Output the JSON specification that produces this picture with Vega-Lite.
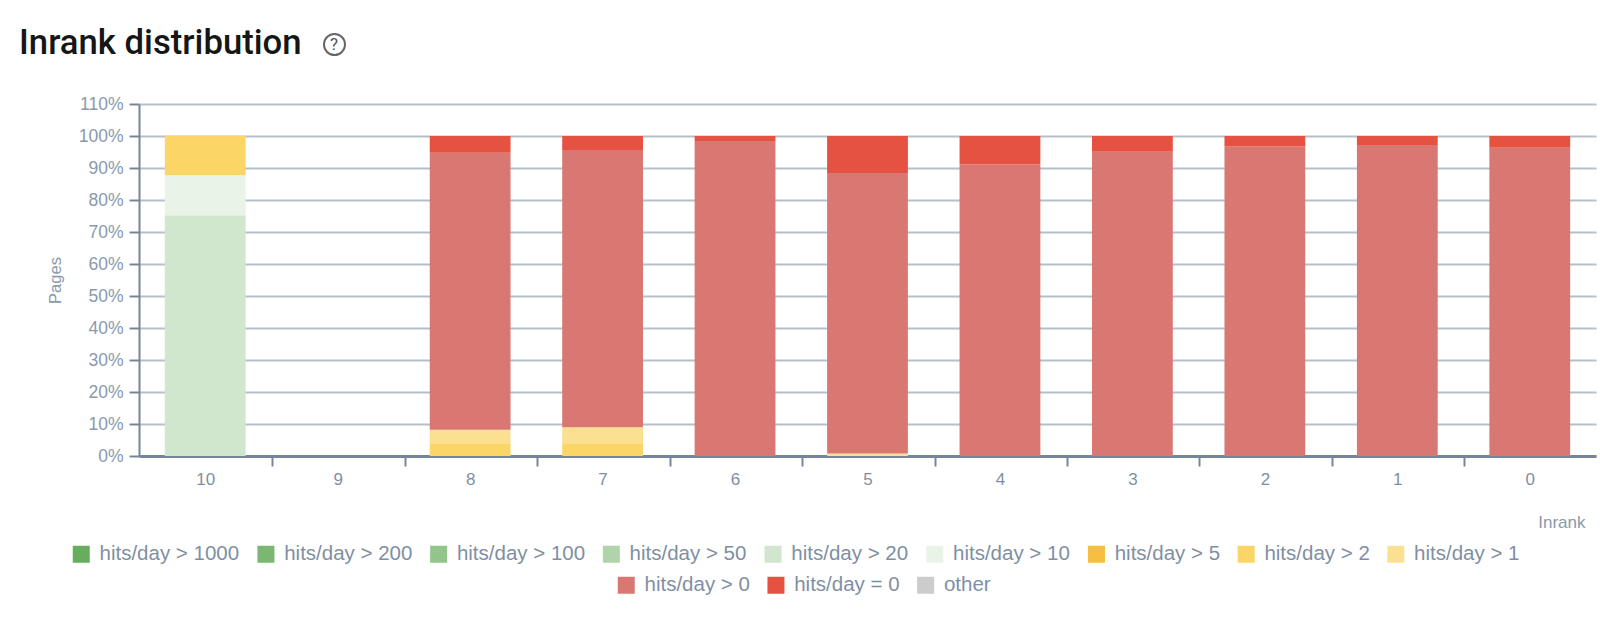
{"$schema":"https://vega.github.io/schema/vega-lite/v6.json","width":1457,"height":352,"autosize":{"type":"none"},"padding":{"left":139,"top":104,"right":4,"bottom":176},"background":"white","title":{"text":"Inrank distribution","font":"Roboto","fontSize":34.7,"fontWeight":500,"color":"#161616","anchor":"start","frame":"group","dx":-120,"offset":0,"dy":29},"data":{"values":[{"inrank":"10","series":"hits/day > 20","order":4,"pct":75.2},{"inrank":"10","series":"hits/day > 10","order":5,"pct":12.5},{"inrank":"10","series":"hits/day > 2","order":7,"pct":12.3},{"inrank":"9","series":"hits/day > 0","order":9,"pct":0},{"inrank":"8","series":"hits/day > 2","order":7,"pct":4},{"inrank":"8","series":"hits/day > 1","order":8,"pct":4.2},{"inrank":"8","series":"hits/day > 0","order":9,"pct":86.6},{"inrank":"8","series":"hits/day = 0","order":10,"pct":5.2},{"inrank":"7","series":"hits/day > 2","order":7,"pct":4},{"inrank":"7","series":"hits/day > 1","order":8,"pct":5},{"inrank":"7","series":"hits/day > 0","order":9,"pct":86.6},{"inrank":"7","series":"hits/day = 0","order":10,"pct":4.4},{"inrank":"6","series":"hits/day > 0","order":9,"pct":98.4},{"inrank":"6","series":"hits/day = 0","order":10,"pct":1.6},{"inrank":"5","series":"hits/day > 1","order":8,"pct":0.8},{"inrank":"5","series":"hits/day > 0","order":9,"pct":87.6},{"inrank":"5","series":"hits/day = 0","order":10,"pct":11.6},{"inrank":"4","series":"hits/day > 0","order":9,"pct":91.1},{"inrank":"4","series":"hits/day = 0","order":10,"pct":8.9},{"inrank":"3","series":"hits/day > 0","order":9,"pct":95.1},{"inrank":"3","series":"hits/day = 0","order":10,"pct":4.9},{"inrank":"2","series":"hits/day > 0","order":9,"pct":96.8},{"inrank":"2","series":"hits/day = 0","order":10,"pct":3.2},{"inrank":"1","series":"hits/day > 0","order":9,"pct":97.2},{"inrank":"1","series":"hits/day = 0","order":10,"pct":2.8},{"inrank":"0","series":"hits/day > 0","order":9,"pct":96.3},{"inrank":"0","series":"hits/day = 0","order":10,"pct":3.7}]},"transform":[{"stack":"pct","groupby":["inrank"],"sort":[{"field":"order","order":"ascending"}],"as":["y0","y1"]}],"encoding":{"x":{"field":"inrank","type":"nominal","sort":["10","9","8","7","6","5","4","3","2","1","0"],"scale":{"paddingInner":0.39,"paddingOuter":0.195},"axis":{"title":"Inrank","titleFont":"Liberation Sans","titleFontSize":17,"titleFontWeight":"normal","titleColor":"#8a99ab","titleAnchor":"end","titleAlign":"right","titleBaseline":"middle","titleX":1446,"titleY":66,"labelAngle":0,"labelFont":"Liberation Sans","labelFontSize":17,"labelColor":"#7f8fa3","labelPadding":5,"tickOffset":67,"labelOffset":-67,"tickSize":10,"tickWidth":2,"tickColor":"#76869a","tickOpacity":{"condition":{"test":"datum.label === '0'","value":0},"value":1},"domainColor":"#76869a","domainWidth":3,"grid":false}},"y":{"field":"y0","type":"quantitative","scale":{"domain":[0,110],"nice":false},"axis":{"title":"Pages","titleFont":"Liberation Sans","titleFontSize":16.5,"titleFontWeight":"normal","titleColor":"#8a99ab","titleX":-84,"titleBaseline":"middle","values":[0,10,20,30,40,50,60,70,80,90,100,110],"labelExpr":"datum.value + '%'","labelFont":"Liberation Sans","labelFontSize":17.5,"labelColor":"#8a99ab","labelPadding":6,"tickSize":10,"tickWidth":2,"tickColor":"#76869a","domainColor":"#76869a","domainWidth":2,"grid":true,"gridColor":"#b5bfca","gridWidth":2,"gridOpacity":1}},"y2":{"field":"y1"}},"layer":[{"transform":[{"filter":"datum.order <= 8"}],"mark":{"type":"bar"},"encoding":{"color":{"field":"series","type":"nominal","scale":{"domain":["hits/day > 1000","hits/day > 200","hits/day > 100","hits/day > 50","hits/day > 20","hits/day > 10","hits/day > 5","hits/day > 2","hits/day > 1"],"range":["#66ad5e","#7ab872","#92c48b","#afd4a9","#d0e6cd","#e9f3e8","#f7bf3f","#fbd566","#fbe091"]},"legend":{"title":null,"orient":"none","legendX":-68,"legendY":440,"direction":"horizontal","columns":9,"gridAlign":"none","columnPadding":15.7,"symbolType":"square","symbolSize":289,"symbolStrokeWidth":0,"labelFont":"Liberation Sans","labelFontSize":20.5,"labelColor":"#7f8fa3","labelLimit":300,"labelOffset":8}}}},{"transform":[{"filter":"datum.order > 8"}],"mark":{"type":"bar"},"encoding":{"color":{"field":"series","type":"nominal","scale":{"domain":["hits/day > 0","hits/day = 0","other"],"range":["#d97873","#e55241","#cccccc"]},"legend":{"title":null,"orient":"none","legendX":477,"legendY":471,"direction":"horizontal","columns":3,"gridAlign":"none","columnPadding":15.7,"symbolType":"square","symbolSize":289,"symbolStrokeWidth":0,"labelFont":"Liberation Sans","labelFontSize":20.5,"labelColor":"#7f8fa3","labelLimit":300,"labelOffset":8}}}},{"transform":[{"filter":"datum.order < 0"}],"mark":{"type":"bar"},"encoding":{"color":{"field":"series","type":"nominal","scale":{"domain":["?"],"range":["#ffffff"]},"legend":{"title":null,"orient":"none","legendX":184,"legendY":-71,"symbolType":"circle","symbolSize":441,"symbolStrokeWidth":2,"symbolStrokeColor":"#666666","symbolFillColor":"#ffffff","labelFont":"Roboto","labelFontSize":17,"labelColor":"#555555","labelOffset":-16}}}}],"resolve":{"scale":{"color":"independent"}},"config":{"view":{"stroke":null}}}
